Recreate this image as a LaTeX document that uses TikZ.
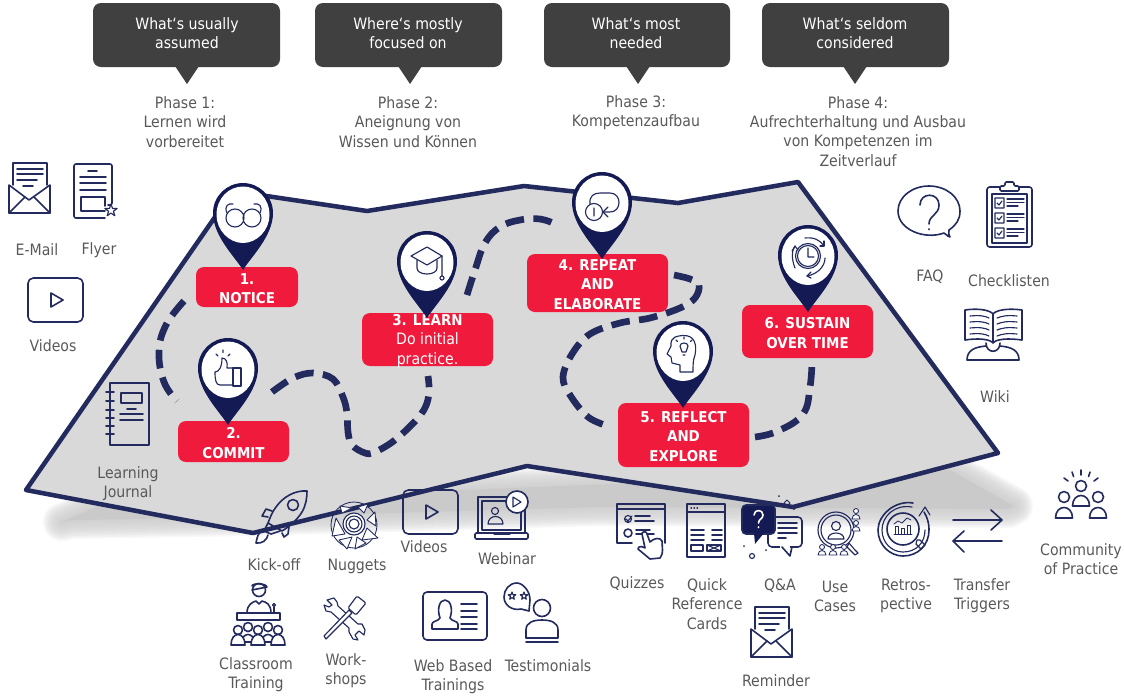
\documentclass[tikz,border=0pt]{standalone}
\usepackage{fontspec}
\setmainfont{DejaVu Sans Condensed}
\definecolor{navy}{HTML}{222A5E}
\definecolor{pindark}{HTML}{141B54}
\definecolor{redbox}{HTML}{EF1A3C}
\definecolor{callout}{HTML}{404040}
\definecolor{mapfill}{HTML}{D9D9D9}
\definecolor{txt}{HTML}{595959}
\definecolor{shadowc}{HTML}{CACACA}
\tikzset{
  icon/.style={draw=navy,line width=1.2pt,line join=round,line cap=round},
  thin icon/.style={draw=navy,line width=.85pt,line join=round,line cap=round},
  fine icon/.style={draw=navy,line width=.65pt,line join=round,line cap=round},
  iconw/.style={icon,fill=white},
  label/.style={text=txt,font=\fontsize{11.75pt}{14.4pt}\selectfont,align=center,inner sep=0pt},
  calltext/.style={text=white,font=\fontsize{11.75pt}{14.4pt}\selectfont,align=center,inner sep=0pt},
  redstep/.style={fill=redbox,draw=none,rounded corners=6pt,inner sep=0pt},
  redtext/.style={text=white,inner sep=0pt,align=center,font=\fontsize{11.2pt}{14.4pt}\selectfont\bfseries},
  trail/.style={draw=navy,line width=5pt,dash pattern=on 14pt off 7pt},
  mapedge/.style={draw=navy,line width=3.4pt,line join=round,fill=mapfill},
}
\newcommand\mappin[2]{%
  \begin{scope}[shift={(#1,#2)}]
    \fill[pindark] (0,0) .. controls (-8,-13) and (-30,-34) .. (-30,-57)
      .. controls (-30,-74) and (-16,-87) .. (0,-87)
      .. controls (16,-87) and (30,-74) .. (30,-57)
      .. controls (30,-34) and (8,-13) .. (0,0) -- cycle;
    \fill[white] (-26.5,-55) .. controls (-26.5,-72) and (-14,-83.5) .. (0,-83.5)
      .. controls (14,-83.5) and (26.5,-72) .. (26.5,-55)
      .. controls (26.5,-40) and (14,-27) .. (0,-27)
      .. controls (-14,-27) and (-26.5,-40) .. (-26.5,-55) -- cycle;
  \end{scope}}
\newcommand\callbox[3]{% left, right, tip
  \fill[callout,rounded corners=6pt] (#1,3) rectangle (#2,67);
  \fill[callout] (#3-12,66) -- (#3+12,66) -- (#3,84) -- cycle;}
\newcommand\stepbox[6]{% name, x, y, w, h (px), text
  \node[redstep,minimum width=#4*.75pt,minimum height=#5*.75pt] (#1) at (#2,#3) {};
  \node[redtext] (#1t) at ([yshift=-1.1pt]#1.center) {#6};}
\newcommand\envelopeicon[2]{%
  \begin{scope}[shift={(#1,#2)}]
    \draw[icon] (4,22) -- (4,0) -- (38,0) -- (38,22);
    \draw[icon] (8,6) -- (34,6) (8,11) -- (34,11) (8,17) -- (28,17) (14,23) -- (24,23);
    \draw[icon] (0,22) -- (20,37) -- (41,22) -- (41,50) -- (0,50) -- cycle;
    \draw[icon] (0,50) -- (16,34) (41,50) -- (25,34);
  \end{scope}}
\newcommand\videoicon[2]{%
  \begin{scope}[shift={(#1,#2)}]
    \draw[icon,rounded corners=4pt] (0,0) rectangle (55,44);
    \draw[icon] (23,15) -- (35,22) -- (23,29) -- cycle;
  \end{scope}}
\newcommand\staricon[4][]{%
  \begin{scope}[shift={(#2,#3)},scale=#4]
    \draw[thin icon,fill=white,#1] (0,-1) -- (.235,-.32) -- (.95,-.31) -- (.38,.12) -- (.59,.81) -- (0,.4)
      -- (-.59,.81) -- (-.38,.12) -- (-.95,-.31) -- (-.235,-.32) -- cycle;
  \end{scope}}
\newcommand\personicon[7][icon]{%
  \draw[#1,fill=white] (#2,#3) circle[radius=#4];
  \draw[#1,fill=white] (#2-#5,#6) .. controls (#2-#5,#6-#7) and (#2+#5,#6-#7) .. (#2+#5,#6) -- cycle;}
\begin{document}
\begin{tikzpicture}[x=.75pt,y=-.75pt]
\useasboundingbox (0,0) rectangle (1124,697);
% shadow
\def\shadowpath{(62,522) -- (100,505) -- (950,470) -- (1014,506) -- (1008,509) -- (600,507) -- (250,517) -- (72,520) -- cycle}
\foreach \w in {2,5,8,11,14,17,20,23,26,29,32,35,38}{
  \draw[shadowc,line width=\w*.75pt,opacity=.14,line join=round] \shadowpath;
}
\fill[shadowc] \shadowpath;
% map
\draw[mapedge] (26,490) -- (233,191) -- (367,211) -- (524,186) -- (678,203) -- (798,182)
  -- (998,453) -- (793,507) -- (527,466) -- (253,533) -- cycle;
% trail
\draw[trail] plot[smooth,tension=.7] coordinates {(184,301) (166,325) (159,352) (164,382) (177,401)};
\draw[trail] plot[smooth,tension=.6] coordinates {(272,392) (293,378) (313,373) (333,379) (343,397) (347,413) (348,432) (352,445) (365,453) (375,452) (395,440) (418,418) (427,403) (429,388) (428,376)};
\draw[trail] plot[smooth,tension=.7] coordinates {(467,295) (475,270) (485,243) (500,227) (520,220) (540,219) (555,224)};
\draw[trail] plot[smooth,tension=.6] coordinates {(674,275) (690,279) (699,285) (695,298) (680,308) (650,318) (620,323) (590,334) (572,354) (563,377) (570,395) (588,417) (608,426)};
\draw[trail] plot[smooth,tension=.7] coordinates {(755,437) (778,431) (803,414) (810,387) (812,362)};
% red boxes
\stepbox{s1}{247}{287}{102}{40}{1.\\NOTICE}
\stepbox{s2}{233.5}{441.5}{111}{41}{2.\\COMMIT}
\stepbox{s3}{427.5}{339.5}{131}{53}{3. LEARN\\\normalfont\fontsize{11.75pt}{14.4pt}\selectfont Do initial\\\normalfont\fontsize{11.75pt}{14.4pt}\selectfont practice.}
\stepbox{s4}{597.5}{283}{141}{58}{4. REPEAT\\AND\\ELABORATE}
\stepbox{s5}{683.5}{435}{131}{64}{5. REFLECT\\AND\\EXPLORE}
\stepbox{s6}{807.5}{331.5}{131}{53}{6. SUSTAIN\\OVER TIME}
% pins
\mappin{243}{270}\mappin{228}{425}\mappin{427}{318}\mappin{602}{259}\mappin{683}{408}\mappin{808}{312}
% glasses
\draw[thin icon] (235,218) circle[radius=9] (252,218) circle[radius=9] (244,216) .. controls (245,214) and (242,214) .. (244,216);
\draw[thin icon] (227,213) .. controls (224,206) and (228,203) .. (233,204);
\draw[thin icon] (260,213) .. controls (263,206) and (259,203) .. (254,204);
% thumb
\draw[thin icon] (215,372) .. controls (219,372) and (222,367) .. (222,358) .. controls (226,358) and (228,362) .. (227,368) -- (233,368) -- (233,385) -- (220,385) .. controls (216,385) and (215,380) .. (215,372);
\draw[thin icon] (233,368) rectangle (241,386);
\draw[thin icon] (223,350) -- (223,352.5) (216,354) -- (218,356) (230,354) -- (228,356);
% cap
\draw[thin icon] (411,256) -- (427,247) -- (442,256) -- (427,265) -- cycle;
\draw[thin icon] (417,260) -- (417,268) .. controls (417,276) and (437,276) .. (437,268) -- (437,260);
\draw[thin icon] (442,256) -- (442,276) (442,278) circle[radius=2];
% repeat
\draw[thin icon] (594,212) circle[radius=8.5] (594,208) -- (594,216);
\draw[thin icon] (590,204) .. controls (589,196) and (594,193) .. (600,193) -- (610,193) .. controls (622,193) and (622,212) .. (610,212) -- (603,212);
\draw[thin icon] (608,207) -- (603,212) -- (608,217);
% head
\draw[thin icon] (693,372) -- (680,372) -- (680,365) -- (672,363) -- (671,357) -- (667,354) -- (671,346) .. controls (670,336) and (678,336) .. (683,335.5) .. controls (695,335) and (697,345) .. (695,355) .. controls (693,360) and (693,365) .. (693,372);
\draw[thin icon] (680,346) .. controls (680,342) and (688,342) .. (688,346) .. controls (688,349) and (686,349) .. (686,352) -- (682,352) .. controls (682,349) and (680,349) .. (680,346);
\draw[thin icon] (683,355) -- (685,355) (684,337) -- (684,339) (676,340) -- (677.5,341.5) (692,340) -- (690.5,341.5);
% clock
\draw[thin icon] (808,256) circle[radius=12.5] (808,256) circle[radius=10.5] (808,248) -- (808,257) -- (814,257);
\draw[thin icon] (795,268) .. controls (791,258) and (792,250) .. (795,246);
\draw[thin icon] (792,251) -- (795,246) -- (798,250);
\draw[thin icon] (805,238) .. controls (814,237) and (820,240) .. (824,246);
\draw[thin icon] (820,246) -- (824,246) -- (824,241);
\draw[thin icon] (825,258) .. controls (825,266) and (818,274) .. (807,276);
\draw[thin icon] (811,272) -- (807,276) -- (811,278);
% callouts
\callbox{93}{280}{187}\callbox{315}{502}{410}\callbox{544}{730}{638}\callbox{762}{949}{855}
\node[calltext] (c1) at (187,33.5) {What‘s usually\\assumed};
\node[calltext] (c2) at (408,33.5) {Where‘s mostly\\focused on};
\node[calltext] (c3) at (636,33.5) {What‘s most\\needed};
\node[calltext] (c4) at (855,33.5) {What‘s seldom\\considered};
\node[label] (p1) at (185,122) {Phase 1:\\Lernen wird\\vorbereitet};
\node[label] (p2) at (408,122) {Phase 2:\\Aneignung von\\Wissen und Können};
\node[label] (p3) at (636,112.5) {Phase 3:\\Kompetenzaufbau};
\node[label] (p4) at (858,131.5) {Phase 4:\\Aufrechterhaltung und Ausbau\\von Kompetenzen im\\Zeitverlauf};
% left icons
\envelopeicon{9}{163}
\draw[icon,rounded corners=1.5pt] (108,205) -- (112,205) -- (112,164) -- (74,164) -- (74,218) -- (105,218);
\draw[icon] (88,171) -- (97,171) (80,177) -- (106,177) (80,183) -- (106,183) (80,190) -- (106,190) (105,211) -- (81,211) -- (81,197) -- (105,197) -- (105,206);
\staricon{111}{210.5}{6.5}
\node[label] (l1) at (37,250) {E-Mail};
\node[label] (l2) at (99,250.5) {Flyer};
\videoicon{28}{278}
\node[label] (l3) at (53,346) {Videos};
% journal
\draw[icon] (110,383) rectangle (149,445) (121,393) rectangle (142,403) (127,409) -- (136,409) (120,414) -- (143,414) (120,420) -- (143,420);
\foreach \y in {392,401,410,418,426,434} \draw[icon] (106,\y) -- (114,\y);
\node[label] (l4) at (128,483.5) {Learning\\Journal};
% right icons
\draw[icon] (950,237) .. controls (946,236) and (947,234) .. (944,233) .. controls (925,240) and (898,230) .. (898,211) .. controls (898,197) and (912,186) .. (929,186) .. controls (946,186) and (960,197) .. (960,211) .. controls (960,220) and (956,225) .. (949,230) .. controls (948,233) and (949,235) .. (950,237) -- cycle;
\draw[icon] (920,205) .. controls (920,192) and (939,192) .. (939,205) .. controls (939,215) and (929,215) .. (929,224) (929,229) -- (929,229.5);
\draw[icon,rounded corners=2pt] (987,187) rectangle (1032,247);
\draw[icon,fill=white,rounded corners=1pt] (1000,191) -- (1000,186) -- (1005,186) -- (1005,182) -- (1014,182) -- (1014,186) -- (1019,186) -- (1019,191) -- cycle;
\draw[thin icon] (992,194) rectangle (1027,243);
\foreach \y in {198,213,228}{
  \draw[thin icon] (995,\y) rectangle (1004,\y+10) (997,\y+5) -- (999,\y+7) -- (1002,\y+3);
  \draw[thin icon] (1007,\y+1) -- (1024,\y+1) (1007,\y+4.5) -- (1024,\y+4.5) (1007,\y+8) -- (1018,\y+8);
}
\node[label] (r1) at (930,277) {FAQ};
\node[label] (r2) at (1009,281) {Checklisten};
% wiki
\draw[icon] (965,310) .. controls (978,308) and (990,310) .. (993,314) .. controls (996,310) and (1008,308) .. (1022,310) -- (1022,340) .. controls (1008,338) and (996,339) .. (993,343) .. controls (990,339) and (978,338) .. (965,340) -- cycle (993,314) -- (993,343);
\draw[thin icon] (970,316) .. controls (980,315) and (985,316) .. (989,318) (970,322) .. controls (980,321) and (985,322) .. (989,324) (970,328) .. controls (980,327) and (985,328) .. (989,330) (970,334) .. controls (980,333) and (985,334) .. (989,336);
\draw[thin icon] (1017,316) .. controls (1007,315) and (1002,316) .. (997,318) (1017,322) .. controls (1007,321) and (1002,322) .. (997,324) (1017,328) .. controls (1007,327) and (1002,328) .. (997,330) (1017,334) .. controls (1007,333) and (1002,334) .. (997,336);
\draw[icon] (986,343) .. controls (986,354) and (1000,354) .. (1000,343);
\draw[icon] (986,346) .. controls (975,347) and (967,350) .. (967,360) -- (1019,360) .. controls (1019,350) and (1011,347) .. (1000,346);
\node[label] (r3) at (995,397) {Wiki};
% rocket
\draw[icon] (307,491) .. controls (295,490) and (283,497) .. (276,507) .. controls (272,512) and (270,518) .. (268,523) -- (282,531) .. controls (290,526) and (297,520) .. (302,512) .. controls (306,505) and (307,498) .. (307,491) -- cycle;
\draw[icon] (293,505) circle[radius=5.5];
\draw[icon] (272,511) -- (266,509) -- (262,516) -- (268,517);
\draw[icon] (289,527) -- (288,534) -- (284,537) -- (282,533);
\draw[icon] (268,523) -- (264,531) -- (271,534) -- (280,531);
\draw[icon] (263,530) .. controls (258,532) and (257,538) .. (256,543) .. controls (262,544) and (267,540) .. (268,535);
\node[label] (b1) at (274,565) {Kick-off};
% nuggets
\draw[fine icon] (354,525) circle[radius=23];
\draw[thin icon,fill=white] (354,524) circle[radius=11] (354,524) circle[radius=8] (354,524) circle[radius=5];
\foreach \a/\b/\c/\d/\e/\f in {340/506/352/508/342/513, 358/507/368/504/364/513, 375/512/376/526/367/520, 336/518/345/534/332/536, 367/528/378/538/362/540, 339/540/352/537/347/549, 357/537/366/543/355/549}{
  \draw[fine icon,fill=white] (\a,\b) -- (\c,\d) -- (\e,\f) -- cycle;}
\node[label] (b2) at (357,566) {Nuggets};
\videoicon{403}{490}
\node[label] (b3) at (424,547) {Videos};
% webinar
\draw[icon] (478,533) -- (478,497) -- (525,497) -- (525,533);
\draw[thin icon] (482,530) -- (482,501) -- (521,501) -- (521,530) -- cycle;
\draw[icon,rounded corners=1pt] (475,533) rectangle (528,539);
\draw[thin icon] (495,511) circle[radius=3.5] (488,524) .. controls (488,514) and (503,514) .. (503,524) -- cycle;
\draw[thin icon] (494,534) -- (510,534);
\draw[icon,fill=white] (517,502) circle[radius=11];
\draw[thin icon] (513,497) -- (521,502) -- (513,507) -- cycle;
\node[label] (b4) at (507,559) {Webinar};
% classroom
\draw[icon] (259,590) circle[radius=6.5];
\draw[icon] (252,586) .. controls (252,583) and (266,583) .. (267,587) -- (252,590);
\draw[icon] (247,613) .. controls (247,604) and (253,602) .. (256,601) -- (259,604) -- (262,601) .. controls (266,602) and (271,604) .. (271,613);
\draw[icon] (237,613) rectangle (280,620) (274,613) -- (274,607);
\draw[thin icon] (274,605) circle[radius=1.5];
\personicon{248}{627}{4.5}{6}{642}{10}
\personicon{268}{627}{4.5}{6}{642}{10}
\personicon{238}{630}{4.5}{7}{645}{14}
\personicon{258}{630}{4.5}{7}{645}{14}
\personicon{278}{630}{4.5}{7}{645}{14}
\node[label] (b5) at (256,675) {Classroom\\Training};
% workshop
\draw[thin icon] (327,600) -- (334,598) -- (337,602) -- (338,606) -- (358,624) -- (362,624) -- (365,630) -- (364,635) -- (359,631) -- (355,635) -- (358,640) -- (353,639) -- (349,632) -- (349,628) -- (331,612) -- (326,611) -- (324,605) -- (329,607) -- (332,605) -- cycle;
\draw[thin icon,fill=white] (349,610) -- (324,636) -- (326,639) -- (352,613) -- cycle;
\draw[thin icon,fill=white,rounded corners=1pt] (357,596) -- (366,603) -- (356,615) -- (348,608) -- cycle;
\node[label] (b6) at (346,671) {Work-\\shops};
% WBT
\draw[icon,rounded corners=3pt] (423,592) rectangle (487,640);
\draw[icon] (432,629) -- (432,624) .. controls (432,621) and (439,621) .. (440,618) .. controls (437,610) and (439,600) .. (445,600) .. controls (451,600) and (453,610) .. (450,618) .. controls (451,621) and (458,621) .. (458,624) -- (458,629) -- cycle;
\foreach \y in {604,611,617,624,629} \draw[icon] (461,\y) -- (477,\y);
\node[label] (b7) at (453,677) {Web Based\\Trainings};
% testimonials
\draw[icon] (529,611) -- (530,600) .. controls (530,590) and (522,583) .. (517,583) .. controls (509,583) and (504,590) .. (504,597) .. controls (504,605) and (512,611) .. (521,609) -- (529,611) -- cycle;
\staricon{512}{596}{4}
\staricon{524}{596}{4}
\draw[icon] (542,608) circle[radius=8.5];
\draw[icon,fill=white] (526,638) -- (526,630) .. controls (526,622) and (534,620) .. (542,620) .. controls (550,620) and (558,622) .. (558,630) -- (558,638) -- cycle;
\draw[icon] (526,642) -- (558,642);
\node[label] (b8) at (548,666) {Testimonials};
% quizzes
\draw[icon] (632,543) -- (617,543) -- (617,504) -- (665,504) -- (665,543);
\draw[icon] (617,509) -- (665,509);
\draw[thin icon] (628,519) circle[radius=3.5] (626,519) -- (628,521) -- (632,516);
\draw[icon] (635,516) -- (650,516) (635,521) -- (654,521);
\draw[icon] (628,533) circle[radius=4] (636,530) -- (650,530) (636,534) -- (654,534);
\draw[icon,fill=white] (642,533) -- (642,534) .. controls (642,531) and (647,531) .. (647,534) -- (650,542) .. controls (654,538) and (660,537) .. (662,541) .. controls (662,548) and (664,553) .. (660,558) -- (650,559) -- (638,549) .. controls (638,546) and (642,546) .. (645,548) -- (642,534);
\node[label] (b9) at (637,583.5) {Quizzes};
% QRC
\draw[icon] (687,504) rectangle (725,557) (687,512) -- (725,512);
\draw[thin icon] (691,508) -- (691.5,508) (694,508) -- (694.5,508) (697,508) -- (697.5,508);
\draw[icon] (691,530) -- (704,530) (691,535) -- (704,535) (691,540) -- (704,540) (712,530) -- (722,530) (712,535) -- (722,535) (712,540) -- (722,540);
\draw[icon] (691,545) rectangle (703,551) (707,545) rectangle (721,551);
\draw[thin icon] (707,545) -- (721,551) (707,551) -- (721,545);
\node[label] (b10) at (707,604) {Quick\\Reference\\Cards};
% Q&A
\draw[icon,rounded corners=3pt] (768,517) rectangle (802,547);
\fill[white] (780,546) -- (790,546) -- (790,550) -- (780,550) -- cycle;
\draw[icon] (782,547) -- (790,556) -- (792,547);
\draw[icon] (778,523) -- (797,523) (778,528) -- (797,528) (778,533) -- (797,533) (778,538) -- (786,538);
\draw[icon,fill=pindark,rounded corners=3pt] (742,505) rectangle (775,534);
\fill[pindark] (754,533) -- (755,544) -- (764,533) -- cycle;
\draw[icon,white] (754,515) .. controls (754,509) and (763,509) .. (763,515) .. controls (763,519) and (758.5,519) .. (758.5,523) (758.5,527) -- (758.5,527.5);
\draw[thin icon] (752,556) circle[radius=2.5];
\fill[navy] (744,546) circle[radius=1] (766,550) circle[radius=1] (779,496) circle[radius=1] (794,509) circle[radius=1];
\draw[fine icon] (787,500) -- (790,503) -- (787,506) -- (784,503) -- cycle;
\node[label] (b11) at (780,586) {Q\&A};
% use cases
\draw[thin icon] (836,530) circle[radius=18] (836,530) circle[radius=15];
\draw[thin icon] (836,526) circle[radius=4.5] (828,539) .. controls (828,531) and (844,531) .. (844,539) -- cycle;
\draw[thin icon] (849,543) -- (855,550) -- (858,553) -- (855,555) -- (847,547) -- cycle;
\foreach \x/\y in {856/515,856/527,822/551,833/551,844/551}{
  \draw[fine icon,fill=white] (\x,\y-4) circle[radius=2.5];
  \draw[fine icon,fill=white] (\x-4,\y+4) .. controls (\x-4,\y-2) and (\x+4,\y-2) .. (\x+4,\y+4) -- cycle;
}
\node[label] (b12) at (835,596.5) {Use\\Cases};
% retro
\draw[icon] (913,503) .. controls (895,500) and (878,515) .. (878,530) .. controls (878,545) and (890,556) .. (903,556) .. controls (918,556) and (929,545) .. (929,530) .. controls (929,522) and (927,517) .. (924,512);
\draw[thin icon] (912,507) .. controls (895,504) and (882,516) .. (882,530) .. controls (882,543) and (892,552) .. (903,552) .. controls (916,552) and (925,543) .. (925,530);
\draw[thin icon] (919,516) -- (925,507) -- (930,515);
\draw[icon] (903,529) circle[radius=16];
\draw[thin icon] (917,540) -- (916,544) -- (921,549) -- (925,545) -- (920,540) -- cycle;
\draw[fine icon] (894,534) -- (912,534) (895,534) rectangle (898,526) (901,534) rectangle (904,528) (907,534) rectangle (910,525);
\draw[fine icon] (894,524) -- (898,521) -- (902,523) -- (907,518) -- (911,520);
\node[label] (b13) at (906,596) {Retros-\\pective};
% transfer
\draw[icon] (953,520) -- (1002,520) (991,510) -- (1002,520) -- (991,530);
\draw[icon] (1002,541) -- (953,541) (964,531) -- (953,541) -- (964,552);
\node[label] (b14) at (982,596) {Transfer\\Triggers};
% community
\personicon[icon]{1081}{486}{5.5}{8.5}{506}{14}
\personicon[icon]{1064}{497}{5.5}{8.5}{518}{14}
\personicon[icon]{1098}{497}{5.5}{8.5}{518}{14}
\draw[icon] (1081,470) -- (1081,475) (1072,472) -- (1073.5,476.5) (1090,472) -- (1088.5,476.5) (1064,478) -- (1068,481) (1098,478) -- (1094,481);
\node[label] (b15) at (1081,559) {Community\\of Practice};
\envelopeicon{751}{607}
\node[label] (b16) at (776,681) {Reminder};
\end{tikzpicture}
\end{document}
